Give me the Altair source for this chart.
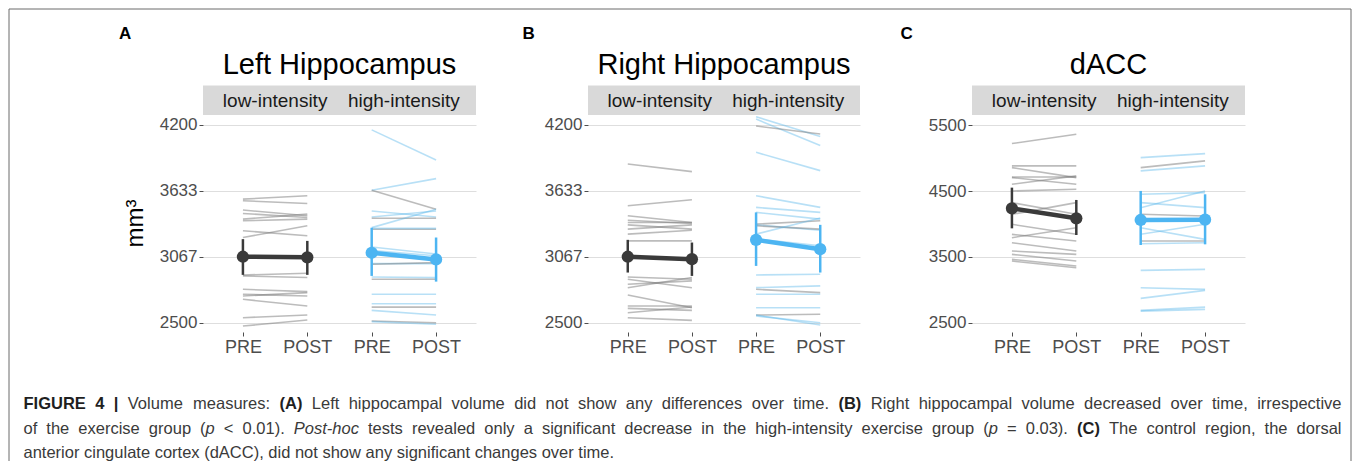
import altair as alt
import pandas as pd

FONT = "Liberation Sans"
GROUPS = ["low-intensity", "high-intensity"]
TIMES = ["PRE", "POST"]
XCATS = [g + "|" + t for g in GROUPS for t in TIMES]

# ---------------- Panel A: Left Hippocampus ----------------
A_low_pre = [3562, 3548, 3468, 3439, 3390, 3376, 3290, 3232, 2910, 2902, 2787, 2744, 2701, 2730, 2543, 2471]
A_low_post = [3591, 3525, 3419, 3404, 3433, 3390, 3247, 3333, 2925, 2888, 2767, 2730, 2643, 2758, 2566, 2523]
A_high_pre = [4157, 3638, 3638, 3460, 3409, 3397, 3317, 3303, 3311, 3150, 3120, 3008, 3002, 2893, 2873, 2744, 2663, 2634, 2606, 2514, 2509]
A_high_post = [3899, 3738, 3475, 3409, 3460, 3397, 3475, 3303, 3311, 3090, 3075, 3008, 3016, 2887, 2873, 2744, 2663, 2634, 2566, 2500, 2486]
A_high_shade = ["b", "b", "g", "b", "b", "g", "b", "g", "b", "b", "b", "b", "g", "b", "g", "b", "b", "g", "b", "g", "b"]
A_mean = [3067, 3062, 3101, 3044]   # low PRE, low POST, high PRE, high POST
A_lo = [2911, 2911, 2902, 2853]
A_hi = [3218, 3203, 3316, 3232]
A_ticks = [2500, 3067, 3633, 4200]

# ---------------- Panel B: Right Hippocampus ----------------
B_low_pre = [3864, 3505, 3419, 3381, 3361, 3341, 3304, 3261, 3203, 2893, 2873, 2830, 2801, 2738, 2643, 2623, 2586, 2543]
B_low_post = [3798, 3557, 3361, 3353, 3361, 3304, 3341, 3295, 3203, 2873, 2801, 2859, 2888, 2629, 2643, 2606, 2635, 2520]
B_high_pre = [4270, 4250, 4190, 3964, 3591, 3491, 3448, 3347, 3341, 3333, 3261, 3220, 2910, 2801, 2787, 2744, 2629, 2566, 2557, 2566]
B_high_post = [4100, 4022, 4122, 3807, 3491, 3448, 3390, 3376, 3295, 3304, 3399, 3160, 2916, 2816, 2758, 2744, 2629, 2572, 2500, 2480]
B_high_shade = ["b", "b", "g", "b", "b", "b", "b", "g", "b", "g", "b", "b", "b", "b", "g", "b", "b", "g", "b", "b"]
B_mean = [3067, 3046, 3212, 3132]
B_lo = [2931, 2902, 2988, 2931]
B_hi = [3212, 3189, 3448, 3341]
B_ticks = [2500, 3067, 3633, 4200]

# ---------------- Panel C: dACC ----------------
C_low_pre = [5221, 4882, 4856, 4714, 4704, 4603, 4502, 4147, 4324, 3995, 3843, 3792, 3716, 3590, 3539, 3463, 3437]
C_low_post = [5363, 4882, 4704, 4714, 4603, 4730, 4527, 4324, 4147, 3843, 3741, 3944, 3590, 3539, 3437, 3361, 3336]
C_high_pre = [5008, 4856, 4806, 4451, 4324, 4248, 4147, 4046, 3944, 3843, 3741, 3701, 3296, 3032, 2870, 2688, 2677]
C_high_post = [5069, 4958, 4882, 4476, 4248, 4502, 4122, 4046, 3767, 3995, 3741, 3716, 3311, 3007, 2992, 2738, 2703]
C_high_shade = ["b", "g", "b", "b", "b", "b", "g", "b", "b", "b", "g", "b", "b", "b", "b", "b", "b"]
C_mean = [4238, 4086, 4061, 4066]
C_lo = [3934, 3833, 3681, 3691]
C_hi = [4552, 4365, 4502, 4451]
C_ticks = [2500, 3500, 4500, 5500]

# ---------------- Caption ----------------
CAPTION = [
    [("FIGURE 4 |", "b"), (" Volume measures: ", "r"), ("(A)", "b"),
     (" Left hippocampal volume did not show any differences over time. ", "r"), ("(B)", "b"),
     (" Right hippocampal volume decreased over time, irrespective", "r")],
    [("of the exercise group (", "r"), ("p", "i"), (" < 0.01). ", "r"), ("Post-hoc", "i"),
     (" tests revealed only a significant decrease in the high-intensity exercise group (", "r"),
     ("p", "i"), (" = 0.03). ", "r"), ("(C)", "b"), (" The control region, the dorsal", "r")],
    [("anterior cingulate cortex (dACC), did not show any significant changes over time.", "r")],
]

# ---------------- layout constants ----------------
PLOT_H = 217
PADX = 0.62
COLORS = ["#7a7a7a", "#56B4E9", "#3a3a3a", "#4db5f2"]

# Arial / Liberation Sans advance widths (per 1000 em)
W_REG = {" ": 278, ".": 278, ",": 278, ":": 278, "(": 333, ")": 333, "-": 333, "<": 584, "=": 584, "|": 260}
for ch, w in zip("abcdefghijklmnopqrstuvwxyz",
                 [556, 556, 500, 556, 556, 278, 556, 556, 222, 222, 500, 222, 833, 556, 556, 556, 556, 333, 500, 278, 556, 500, 722, 500, 500, 500]):
    W_REG[ch] = w
for ch, w in zip("ABCDEFGHIJKLMNOPQRSTUVWXYZ",
                 [667, 667, 722, 722, 667, 611, 778, 722, 278, 500, 667, 556, 833, 722, 778, 667, 778, 722, 667, 611, 722, 667, 944, 667, 667, 611]):
    W_REG[ch] = w
for ch in "0123456789":
    W_REG[ch] = 556
W_BOLD = {" ": 278, "(": 333, ")": 333, "|": 280, "4": 556, "A": 722, "B": 722, "C": 722,
          "E": 667, "F": 611, "G": 778, "I": 278, "R": 722, "U": 722}


def tw(s, st):
    tbl = W_BOLD if st == "b" else W_REG
    return sum(tbl.get(c, 556) for c in s) / 1000.0


def words_of(line):
    words = [[]]
    for text, st in line:
        parts = text.split(" ")
        for k, p in enumerate(parts):
            if k > 0:
                words.append([])
            if p:
                words[-1].append((p, st))
    return [w for w in words if w]


CAP_X0 = -179.5
CAP_W = 1318.0
CAP_Y = [294.0, 318.5, 343.0]
SPACE = 0.278

cap_words = [words_of(l) for l in CAPTION]
nat = [sum(sum(tw(t, s) for t, s in w) for w in ws) + SPACE * (len(ws) - 1) for ws in cap_words]
FS = min(16.5, CAP_W / max(nat[0], nat[1]))
cap_rows = []
for li, ws in enumerate(cap_words):
    gap = SPACE * FS
    if li < 2 and len(ws) > 1:
        gap += (CAP_W - nat[li] * FS) / (len(ws) - 1)
    x = CAP_X0
    for w in ws:
        for t, s in w:
            cap_rows.append(dict(x=x, y=CAP_Y[li], text=t, style=s))
            x += tw(t, s) * FS
        x += gap
cap_df = pd.DataFrame(cap_rows)

one = pd.DataFrame({"k": [0]})


def make_panel(title, letter, letter_x, width, yticks, ydomain,
               low_pre, low_post, high_pre, high_post, high_shade,
               mean, lo, hi, extras=()):
    rows = []
    for i, (a, b) in enumerate(zip(low_pre, low_post)):
        rows.append(dict(sid="L%d" % i, xcat=XCATS[0], value=a, shade="g"))
        rows.append(dict(sid="L%d" % i, xcat=XCATS[1], value=b, shade="g"))
    for i, (a, b, s) in enumerate(zip(high_pre, high_post, high_shade)):
        rows.append(dict(sid="H%d" % i, xcat=XCATS[2], value=a, shade=s))
        rows.append(dict(sid="H%d" % i, xcat=XCATS[3], value=b, shade=s))
    ind = pd.DataFrame(rows)
    means = pd.DataFrame(dict(xcat=XCATS, grp=["low", "low", "high", "high"],
                              mean=mean, lo=lo, hi=hi, shade=["G", "G", "B", "B"]))

    step = width / (3 + 2 * PADX)
    xs = alt.Scale(type="point", domain=XCATS, padding=PADX)
    ys = alt.Scale(domain=ydomain, nice=False, zero=False)
    xaxis = alt.Axis(title=None, labelExpr="split(datum.value, '|')[1]", labelAngle=0,
                     labelFontSize=18, labelColor="#4d4d4d", labelFont=FONT,
                     tickColor="#4d4d4d", tickSize=4, labelPadding=2, domain=False, grid=False)
    yaxis = alt.Axis(title=None, values=yticks, format="d", labelFontSize=17, labelColor="#4d4d4d",
                     labelFont=FONT, tickColor="#4d4d4d", tickSize=4, labelPadding=2,
                     domain=False, grid=True, gridColor="#dedede", gridWidth=1)
    color = alt.Color("shade:N", scale=alt.Scale(domain=["g", "b", "G", "B"], range=COLORS), legend=None)
    X = alt.X("xcat:N", scale=xs, axis=xaxis)

    strip = alt.Chart(one).mark_rect(color="#d9d9d9").encode(
        x=alt.value(0), x2=alt.value(width), y=alt.value(-29.5), y2=alt.value(0))
    striptxt = alt.Chart(pd.DataFrame(dict(xcat=[XCATS[0], XCATS[2]], label=GROUPS))).mark_text(
        dx=step / 2, fontSize=19, font=FONT, color="#1a1a1a", baseline="alphabetic", align="center"
    ).encode(x=X, y=alt.value(-8), text="label:N")
    ttl = alt.Chart(one).mark_text(fontSize=29, font=FONT, color="black", align="center",
                                   baseline="alphabetic").encode(
        x=alt.value(width / 2), y=alt.value(-41.5), text=alt.value(title))
    let = alt.Chart(one).mark_text(fontSize=17, fontWeight="bold", font=FONT, color="black",
                                   align="left", baseline="alphabetic").encode(
        x=alt.value(letter_x), y=alt.value(-76), text=alt.value(letter))

    lines = alt.Chart(ind).mark_line(strokeWidth=1.6).encode(
        x=X, y=alt.Y("value:Q", scale=ys, axis=yaxis), detail="sid:N", color=color,
        opacity=alt.Opacity("shade:N", scale=alt.Scale(domain=["g", "b"], range=[0.5, 0.42]), legend=None))
    bars = alt.Chart(means).mark_rule(strokeWidth=2.5).encode(
        x=X, y=alt.Y("lo:Q", scale=ys, axis=yaxis), y2="hi:Q", color=color)
    mline = alt.Chart(means).mark_line(strokeWidth=4.5).encode(
        x=X, y=alt.Y("mean:Q", scale=ys, axis=yaxis), detail="grp:N", color=color)
    pts = alt.Chart(means).mark_circle(size=150, opacity=1).encode(
        x=X, y=alt.Y("mean:Q", scale=ys, axis=yaxis), color=color)

    return alt.layer(strip, striptxt, ttl, let, lines, bars, mline, pts, *extras).properties(
        width=width, height=PLOT_H)


# extras for panel A: y title, caption and figure border
ytitle = alt.Chart(one).mark_text(angle=270, fontSize=24, font=FONT, color="black", align="center",
                                  baseline="alphabetic").encode(
    x=alt.value(-60), y=alt.value(PLOT_H / 2), text=alt.value("mm³"))

cap_layers = []
for st, weight, fstyle, col in [("r", "normal", "normal", "#3a3a3a"),
                                ("b", "bold", "normal", "#1f1f1f"),
                                ("i", "normal", "italic", "#3a3a3a")]:
    cap_layers.append(
        alt.Chart(cap_df[cap_df["style"] == st]).mark_text(
            align="left", baseline="alphabetic", font=FONT, fontSize=FS,
            fontWeight=weight, fontStyle=fstyle, color=col
        ).encode(x=alt.X("x:Q", scale=None, axis=None), y=alt.Y("y:Q", scale=None, axis=None),
                 text="text:N"))

BL, BT, BR, BB = -194, -106, 1148, 346
border = [
    alt.Chart(one).mark_rule(color="#6a6a6a", strokeWidth=1).encode(
        x=alt.value(BL), y=alt.value(BT), y2=alt.value(BB)),
    alt.Chart(one).mark_rule(color="#6a6a6a", strokeWidth=1).encode(
        x=alt.value(BL), x2=alt.value(BR), y=alt.value(BT)),
    alt.Chart(one).mark_rule(color="#6a6a6a", strokeWidth=1).encode(
        x=alt.value(BR), y=alt.value(BT), y2=alt.value(BB)),
]

panelA = make_panel("Left Hippocampus", "A", -84, 273, A_ticks, [2420, 4285],
                    A_low_pre, A_low_post, A_high_pre, A_high_post, A_high_shade,
                    A_mean, A_lo, A_hi, extras=[ytitle] + cap_layers + border)
panelB = make_panel("Right Hippocampus", "B", -65.5, 272, B_ticks, [2420, 4285],
                    B_low_pre, B_low_post, B_high_pre, B_high_post, B_high_shade,
                    B_mean, B_lo, B_hi)
panelC = make_panel("dACC", "C", -71.5, 273, C_ticks, [2360, 5655],
                    C_low_pre, C_low_post, C_high_pre, C_high_post, C_high_shade,
                    C_mean, C_lo, C_hi)

chart = alt.hconcat(panelA, panelB, panelC, spacing=112, bounds="flush").properties(
    padding=0, background="white"
).configure(font=FONT).configure_view(stroke="transparent", strokeWidth=0)

chart.save("out.html", embed_options={"renderer": "svg", "actions": False})
